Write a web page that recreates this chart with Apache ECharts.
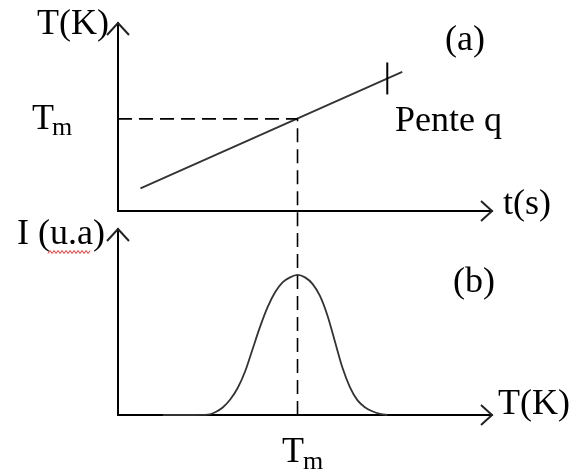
<!DOCTYPE html>
<html>
<head>
<meta charset="utf-8">
<script src="https://cdn.jsdelivr.net/npm/echarts@6/dist/echarts.min.js"></script>
<style>
  html, body { margin: 0; padding: 0; background: #fff; }
  #chart { width: 581px; height: 473px; }
</style>
</head>
<body>
<div id="chart"></div>
<script>
// (a) linear heating ramp T(t), arbitrary units on both axes (0..100)
const rampTime = [6, 76];
const rampTemp = [12, 74];
// short mark crossing the ramp where the slope q is labelled
const slopeMarkTime = [72, 72];
const slopeMarkTemp = [62, 79];
// peak temperature and the time at which it is reached
const tmTime = 48;
const tmTemp = 49;

// (b) thermoluminescence glow peak I(T), arbitrary units
const glowTemp = [12, 16, 20, 24, 26, 28, 30, 32, 34, 36, 38, 40, 42, 44, 46, 48,
                  50, 52, 54, 56, 58, 60, 62, 64, 66, 68, 70, 72];
const glowInt  = [0, 0, 0, 0.2, 1.5, 4, 8.3, 14.5, 23.5, 35.5, 47.5, 58, 66, 71.3, 74, 75.3,
                  74, 70.5, 64, 53.5, 39.5, 25.5, 15, 8, 4.2, 2, 0.6, 0];

const SERIF = '"Liberation Serif", "Times New Roman", serif';

function pairs(xs, ys) { return xs.map((x, i) => [x, ys[i]]); }

// text placed by its baseline
function label(str, x, baseline, size) {
  return {
    type: 'text', x: x, y: baseline - 0.32 * size, z: 10,
    style: { text: str, font: size + 'px ' + SERIF, fill: '#000',
             align: 'left', verticalAlign: 'middle' }
  };
}
function arrow(points) {
  return { type: 'polyline', z: 10, shape: { points: points },
           style: { stroke: '#222', lineWidth: 2, fill: null } };
}
// spell-check squiggle under "u.a"
const squiggle = [];
for (let x = 48, k = 0; x <= 90; x += 2, k++) squiggle.push([x, k % 2 ? 250.5 : 253.5]);

const axisCommon = {
  type: 'value', min: 0, max: 100,
  axisLine: { show: true, onZero: false, lineStyle: { color: '#000', width: 2 } },
  axisTick: { show: false }, axisLabel: { show: false }, splitLine: { show: false }
};

const chart = echarts.init(document.getElementById('chart'), null, { renderer: 'canvas' });
chart.setOption({
  animation: false,
  backgroundColor: '#fff',
  grid: [
    { left: 118, top: 23, width: 374, height: 188 },
    { left: 118, top: 229, width: 374, height: 186 }
  ],
  xAxis: [
    Object.assign({ gridIndex: 0 }, axisCommon),
    Object.assign({ gridIndex: 1 }, axisCommon)
  ],
  yAxis: [
    Object.assign({ gridIndex: 0 }, axisCommon),
    Object.assign({ gridIndex: 1 }, axisCommon)
  ],
  series: [
    { type: 'line', xAxisIndex: 0, yAxisIndex: 0, data: pairs(rampTime, rampTemp),
      symbol: 'none', lineStyle: { color: '#333', width: 1.8 } },
    { type: 'line', xAxisIndex: 0, yAxisIndex: 0, data: pairs(slopeMarkTime, slopeMarkTemp),
      symbol: 'none', lineStyle: { color: '#000', width: 2 } },
    // guide from T_m on the temperature axis to the ramp, then down through both panels
    { type: 'line', xAxisIndex: 0, yAxisIndex: 0, clip: false,
      data: [[0, tmTemp], [tmTime, tmTemp], [tmTime, -10]],
      symbol: 'none', lineStyle: { color: '#000', width: 1.6, type: [14, 7] } },
    { type: 'line', xAxisIndex: 1, yAxisIndex: 1,
      data: [[tmTime, 0], [tmTime, 100]],
      symbol: 'none', lineStyle: { color: '#000', width: 1.6, type: [14, 7] } },
    { type: 'line', xAxisIndex: 1, yAxisIndex: 1, data: pairs(glowTemp, glowInt),
      smooth: 0.3,
      symbol: 'none', lineStyle: { color: '#333', width: 1.8 } }
  ],
  graphic: [
    arrow([[107, 35], [118, 23], [129, 35]]),
    arrow([[481, 201], [492, 211], [481, 221]]),
    arrow([[107, 241], [118, 229], [129, 241]]),
    arrow([[481, 405], [492, 415], [481, 425]]),
    label('T(K)', 37, 36, 36),
    label('T', 32, 131, 36),
    label('m', 52, 136, 26),
    label('(a)', 445, 52, 36),
    label('Pente q', 395, 133, 36),
    label('t(s)', 503, 216, 36),
    label('I (u.a)', 17, 246, 36),
    { type: 'polyline', z: 10, shape: { points: squiggle },
      style: { stroke: '#ff3030', lineWidth: 1, fill: null } },
    label('(b)', 453, 294, 36),
    label('T(K)', 498, 416, 36),
    label('T', 282, 464, 36),
    label('m', 303, 470, 26)
  ]
});
</script>
</body>
</html>
